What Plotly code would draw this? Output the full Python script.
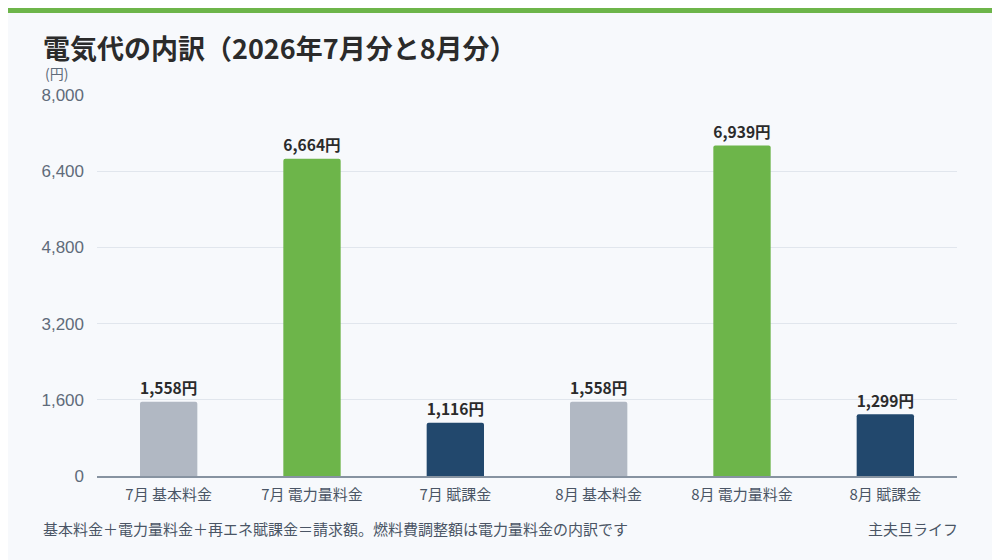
import plotly.graph_objects as go

categories = ["7月 基本料金", "7月 電力量料金", "7月 賦課金", "8月 基本料金", "8月 電力量料金", "8月 賦課金"]
values = [1558, 6664, 1116, 1558, 6939, 1299]
colors = ["#b1b8c3", "#6db54a", "#22486d", "#b1b8c3", "#6db54a", "#22486d"]
tick_vals = [0, 1600, 3200, 4800, 6400, 8000]

F = "Noto Sans CJK JP"
PH = 381
PW = 860
fig = go.Figure(go.Bar(
    x=categories, y=values, marker=dict(color=colors, line=dict(width=0), cornerradius=2),
    text=[f"{v:,}円" for v in values], textposition="outside",
    textfont=dict(family=F, size=17, color="#2b2b2b", weight="bold"), cliponaxis=False,
    width=0.4,
))
fig.update_layout(
    width=1000, height=560, paper_bgcolor="#f7f9fc", plot_bgcolor="#f7f9fc",
    margin=dict(l=89, r=51, t=87, b=92), showlegend=False,
    font=dict(family=F, color="#5f6b7a"),
    shapes=[
        dict(type="rect", xref="paper", yref="paper", x0=-89/PW, x1=(PW+51)/PW, y0=(PH+87)/PH, y1=(PH+82)/PH,
             fillcolor="#6db54a", line_width=0),
    ],
    annotations=[
        dict(text="<b>電気代の内訳（2026年7月分と8月分）</b>", xref="paper", yref="paper",
             x=-56/PW, y=(PH+95-47)/PH, xanchor="left", yanchor="middle", showarrow=False,
             font=dict(family=F, size=27, color="#2b2b2b")),
        dict(text="(円)", xref="paper", yref="paper", x=-27/PW, y=(PH+95-73)/PH,
             xanchor="right", yanchor="middle", showarrow=False, font=dict(size=14, color="#5f6b7a")),
        dict(text="基本料金＋電力量料金＋再エネ賦課金＝請求額。燃料費調整額は電力量料金の内訳です",
             xref="paper", yref="paper", x=-56/PW, y=-(528-476)/PH, xanchor="left", yanchor="middle",
             showarrow=False, font=dict(size=15, color="#4a5565")),
        dict(text="主夫旦ライフ", xref="paper", yref="paper", x=(960-97)/PW, y=-(528-476)/PH,
             xanchor="right", yanchor="middle", showarrow=False, font=dict(size=15, color="#4a5565")),
    ],
)
fig.update_yaxes(range=[0, 8000], tickvals=tick_vals, tickformat=",", gridcolor="#e1e6ed",
                 tickfont=dict(family="Liberation Sans", size=17, color="#5f6b7a"), zeroline=False, ticks="",
                 ticklabelstandoff=12)
fig.update_xaxes(showline=True, linecolor="#8793a1", linewidth=2, tickfont=dict(size=15, color="#4a5565"),
                 ticklabelstandoff=4)
fig.write_html("out.html")
